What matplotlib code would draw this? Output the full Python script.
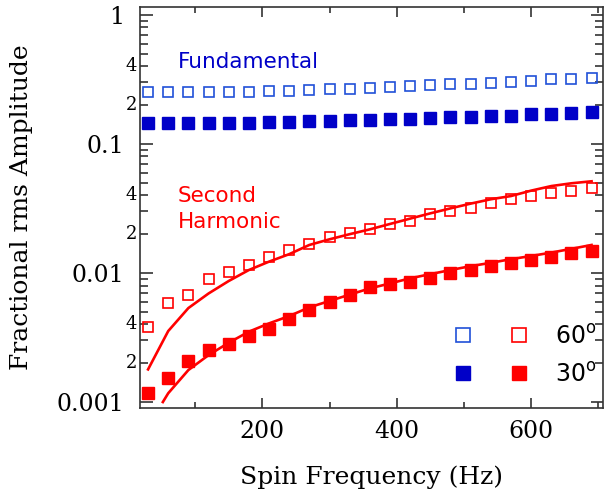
"""Fractional rms amplitude vs spin frequency."""

import matplotlib
import matplotlib.pyplot as plt
from matplotlib.legend_handler import HandlerTuple
from matplotlib.ticker import FixedLocator, NullFormatter

matplotlib.use("Agg")  # Non-interactive backend

# Spin frequencies (Hz)
freq = [30, 60, 90, 120, 150, 180, 210, 240, 270, 300, 330, 360,
        390, 420, 450, 480, 510, 540, 570, 600, 630, 660, 690]

# Fundamental
fund_60 = [0.252, 0.252, 0.252, 0.252, 0.254, 0.254, 0.2575, 0.259, 0.262, 0.2655, 0.267, 0.270,
           0.275, 0.280, 0.285, 0.290, 0.293, 0.299, 0.304, 0.308, 0.317, 0.321, 0.323]
fund_30 = [0.145, 0.145, 0.145, 0.1455, 0.146, 0.146, 0.147, 0.149, 0.150, 0.152, 0.153, 0.1535,
           0.1554, 0.156, 0.158, 0.161, 0.163, 0.165, 0.166, 0.170, 0.172, 0.174, 0.176]

# Second harmonic
harm_60 = [0.00384, 0.00582, 0.00675, 0.00893, 0.0101, 0.0115, 0.0132, 0.0151, 0.0168, 0.0191,
           0.0203, 0.0218, 0.0240, 0.0253, 0.0285, 0.0303, 0.0321, 0.0347, 0.0375, 0.0395,
           0.0419, 0.0435, 0.0454]
harm_30 = [0.00117, 0.00154, 0.00209, 0.00253, 0.00282, 0.00325, 0.00370, 0.00438, 0.00517,
           0.00593, 0.00675, 0.00775, 0.00817, 0.00847, 0.00910, 0.00995, 0.01055, 0.01133,
           0.01189, 0.01262, 0.01338, 0.01422, 0.01473]

# Model curves for the second harmonic
model_60_freq = freq
model_60 = [0.00179, 0.00355, 0.00535, 0.00694, 0.00867, 0.01055, 0.01225, 0.0140, 0.0165,
            0.01825, 0.0200, 0.0218, 0.0240, 0.0264, 0.0290, 0.0317, 0.0345, 0.0373, 0.0395,
            0.0435, 0.0472, 0.0496, 0.0514]
model_30_freq = [52, 60, 90, 120, 150, 180, 210, 240, 270, 300, 330, 360,
                 390, 420, 450, 480, 510, 540, 570, 600, 630, 660, 690]
model_30 = [0.00100, 0.00117, 0.00177, 0.00231, 0.00288, 0.00351, 0.00407, 0.00464, 0.00542,
            0.00607, 0.0068, 0.0076, 0.0083, 0.0091, 0.0098, 0.01055, 0.0113, 0.0120, 0.0128,
            0.01355, 0.0144, 0.0154, 0.0165]

y_major = [0.001, 0.01, 0.1, 1]
y_major_labels = ["0.001", "0.01", "0.1", "1"]
y_minor = [m * 10.0 ** e for e in range(-3, 0) for m in range(2, 10)]
x_major = [200, 400, 600]
x_minor = [100, 300, 500, 700]

BLUE_OPEN = "#2050d8"
BLUE = "#0000c8"
RED = "#ff0000"
SPINE = "#333333"

fig = plt.figure(figsize=(6.07, 4.95), dpi=100)
ax = fig.add_axes([140 / 607, 1 - 408 / 495, 463 / 607, 401 / 495])

ax.set_yscale("log")
ax.set_xlim(18, 707)
ax.set_ylim(0.000899, 1.153)

ms = 7.5
ax.plot(freq, fund_60, "s", mfc="none", mec=BLUE_OPEN, mew=1.2, ms=ms)
ax.plot(freq, fund_30, "s", color=BLUE, ms=ms + 0.5)
ax.plot(freq, harm_60, "s", mfc="none", mec=RED, mew=1.2, ms=ms)
ax.plot(freq, harm_30, "s", color=RED, ms=ms + 0.5)
ax.plot(model_60_freq, model_60, "-", color=RED, lw=1.9)
ax.plot(model_30_freq, model_30, "-", color=RED, lw=1.9)

# Legend: one row per angle, blue and red markers side by side
h_b60, = ax.plot([], [], "s", mfc="none", mec=BLUE_OPEN, mew=1.2, ms=ms + 2)
h_r60, = ax.plot([], [], "s", mfc="none", mec=RED, mew=1.2, ms=ms + 2)
h_b30, = ax.plot([], [], "s", color=BLUE, ms=ms + 2)
h_r30, = ax.plot([], [], "s", color=RED, ms=ms + 2)
leg = ax.legend(
    [(h_b60, h_r60), (h_b30, h_r30)],
    ["60$^{\\mathsf{o}}$", "30$^{\\mathsf{o}}$"],
    handler_map={tuple: HandlerTuple(ndivide=None, pad=0)},
    numpoints=1,
    handlelength=4.75,
    handletextpad=0.35,
    labelspacing=0.6,
    frameon=False,
    fontsize=17,
    loc="lower right",
    bbox_to_anchor=(1.032, 0.0),
)

ax.text(0.082, 0.863, "Fundamental", color=BLUE, fontsize=15.5,
        transform=ax.transAxes, va="center", ha="left")
ax.text(0.082, 0.497, "Second\nHarmonic", color=RED, fontsize=15.5,
        transform=ax.transAxes, va="center", ha="left", linespacing=1.4)

# Ticks
ax.yaxis.set_major_locator(FixedLocator(y_major))
ax.set_yticklabels(y_major_labels)
ax.yaxis.set_minor_locator(FixedLocator(y_minor))
ax.yaxis.set_minor_formatter(NullFormatter())
ax.xaxis.set_major_locator(FixedLocator(x_major))
ax.xaxis.set_minor_locator(FixedLocator(x_minor))

ax.tick_params(which="both", direction="in", top=True, right=True, colors=SPINE, width=1.2)
ax.tick_params(axis="y", which="major", length=9, pad=11, labelsize=17, labelcolor="black")
ax.tick_params(axis="y", which="minor", length=6)
ax.tick_params(axis="x", which="major", length=7.5, pad=9, labelsize=17, labelcolor="black")
ax.tick_params(axis="x", which="minor", length=4)
for lab in ax.get_xticklabels() + ax.get_yticklabels():
    lab.set_fontfamily("DejaVu Serif")

# Small labels on the 2 and 4 minor ticks
for e in range(-3, 0):
    for m in (2, 4):
        ax.annotate(str(m), xy=(0, m * 10.0 ** e), xycoords=("axes fraction", "data"),
                    xytext=(-2, 0), textcoords="offset points",
                    ha="right", va="center", fontsize=13, family="DejaVu Serif")

for sp in ax.spines.values():
    sp.set_color(SPINE)
    sp.set_linewidth(1.2)

ax.set_xlabel("Spin Frequency (Hz)", fontsize=18, family="DejaVu Serif")
ax.set_ylabel("Fractional rms Amplitude", fontsize=18, family="DejaVu Serif")
ax.xaxis.set_label_coords(0.501, -0.143)
ax.yaxis.set_label_coords(-0.232, 0.501)

plt.savefig("out.png", dpi=100)
plt.close()
